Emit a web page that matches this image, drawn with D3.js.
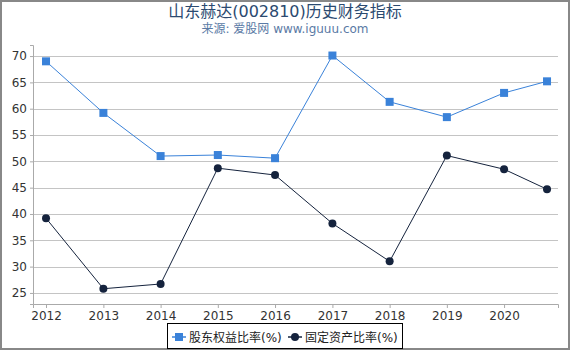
<!DOCTYPE html>
<html><head><meta charset="utf-8">
<script src="https://cdn.jsdelivr.net/npm/d3@7"></script>
<style>body{margin:0;background:#fff}svg{display:block;font-family:"DejaVu Sans","Noto Sans CJK SC",sans-serif}</style>
</head><body><svg id="c" width="570" height="350"></svg>
<script>
const dates = ["2012-01-01","2013-01-01","2014-01-01","2015-01-01","2016-01-01","2017-01-01","2018-01-01","2019-01-01","2020-01-01","2020-10-01"];
const equityRatio = [69.0,59.2,51.0,51.2,50.6,70.1,61.3,58.4,63.0,65.2];
const fixedAssetRatio = [39.2,25.8,26.7,48.7,47.4,38.2,31.0,51.1,48.5,44.7];
const yTicks = [25,30,35,40,45,50,55,60,65,70];
const xTickYears = [2012,2013,2014,2015,2016,2017,2018,2019,2020];
const seriesNames = ["股东权益比率(%)","固定资产比率(%)"];
const title = "山东赫达(002810)历史财务指标";
const subtitle = "来源: 爱股网 www.iguuu.com";

(function(){
const svg = d3.select("#c");
const W=570,H=350;
svg.append("rect").attr("x",1).attr("y",1).attr("width",W-2).attr("height",H-2).attr("fill","#fff").attr("stroke","#888").attr("stroke-width",2);

const parse = d3.timeParse("%Y-%m-%d");
const dd = dates.map(parse);
const pL=33,pR=558,pT=45,pB=304;
const x = d3.scaleTime().domain([parse("2011-10-10"), parse("2020-12-10")]).range([pL,pR]);
const y = d3.scaleLinear().domain([22.9,72.1]).range([pB,pT]);

svg.append("text").attr("x",W/2).attr("y",17).attr("text-anchor","middle").attr("font-size",16).attr("fill","#2b4a70").text(title);
svg.append("text").attr("x",W/2).attr("y",33).attr("text-anchor","middle").attr("font-size",12).attr("fill","#5a7aa5").text(subtitle);

svg.append("g").selectAll("line").data(yTicks).join("line")
  .attr("x1",pL).attr("x2",pR).attr("y1",d=>Math.round(y(d))+0.5).attr("y2",d=>Math.round(y(d))+0.5)
  .attr("stroke","#c4c4c4").attr("stroke-width",1);

const ya = svg.append("g").attr("transform",`translate(${pL},0)`)
  .call(d3.axisLeft(y).tickValues(yTicks).tickSize(3).tickPadding(3));
const xa = svg.append("g").attr("transform",`translate(0,${pB})`)
  .call(d3.axisBottom(x).tickValues(xTickYears.map(v=>new Date(v,0,1))).tickFormat(d3.timeFormat("%Y")).tickSize(4).tickPadding(3));
[ya,xa].forEach(a=>{a.selectAll("path,line").attr("stroke","#aaa");a.selectAll("text").attr("fill","#333").attr("font-size",12).attr("font-family","DejaVu Sans");});

const series=[{v:equityRatio,c:"#3a82d9",shape:"square"},{v:fixedAssetRatio,c:"#15233d",shape:"circle"}];
series.forEach(s=>{
  const pts = dd.map((d,i)=>[x(d),y(s.v[i])]);
  svg.append("path").attr("d",d3.line()(pts)).attr("fill","none").attr("stroke",s.c).attr("stroke-width",1);
  if(s.shape==="square") svg.append("g").selectAll("rect").data(pts).join("rect").attr("x",p=>p[0]-4).attr("y",p=>p[1]-4).attr("width",8).attr("height",8).attr("fill",s.c);
  else svg.append("g").selectAll("circle").data(pts).join("circle").attr("cx",p=>p[0]).attr("cy",p=>p[1]).attr("r",4).attr("fill",s.c);
});

const lg = svg.append("g");
lg.append("rect").attr("x",167.5).attr("y",323.5).attr("width",235).attr("height",25).attr("fill","#fff").attr("stroke","#000").attr("stroke-width",1);
const items=[{x:172,c:"#3a82d9",shape:"square",t:seriesNames[0]},{x:288,c:"#15233d",shape:"circle",t:seriesNames[1]}];
items.forEach(it=>{
  lg.append("line").attr("x1",it.x).attr("x2",it.x+14).attr("y1",337).attr("y2",337).attr("stroke",it.c).attr("stroke-width",1.5);
  if(it.shape==="square") lg.append("rect").attr("x",it.x+3).attr("y",333).attr("width",8).attr("height",8).attr("fill",it.c);
  else lg.append("circle").attr("cx",it.x+7).attr("cy",337).attr("r",4).attr("fill",it.c);
  lg.append("text").attr("x",it.x+17).attr("y",341.5).attr("font-size",12).attr("fill","#222").text(it.t);
});
})();
</script></body></html>
